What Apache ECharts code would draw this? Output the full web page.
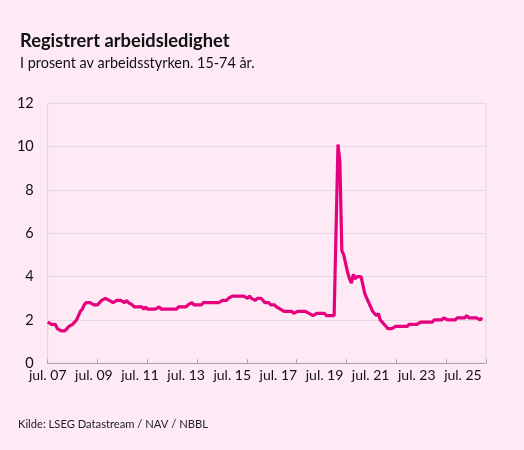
<!DOCTYPE html>
<html><head><meta charset="utf-8">
<script src="https://cdn.jsdelivr.net/npm/echarts@6/dist/echarts.min.js"></script>
<style>html,body{margin:0;padding:0;background:#FDEAF5;}#c{width:524px;height:450px;}</style>
</head><body><div id="c"></div>
<script>
// Monthly data, starting July 2007
const startYear = 2007;
const startMonth = 7;
const slotCount = 229; // axis slots: Jul 2007 .. Jul 2026
const tickLabels = ["jul. 07","jul. 09","jul. 11","jul. 13","jul. 15","jul. 17","jul. 19","jul. 21","jul. 23","jul. 25"];
const rate = [
  1.9,1.9,1.8,1.8,1.8,1.6,1.6,1.5,1.5,1.5,1.6,1.7,
  1.7,1.8,1.9,2.0,2.2,2.4,2.5,2.7,2.8,2.8,2.8,2.8,
  2.7,2.7,2.7,2.8,2.9,2.9,3.0,3.0,2.9,2.9,2.8,2.8,
  2.9,2.9,2.9,2.9,2.8,2.9,2.8,2.8,2.7,2.6,2.6,2.6,
  2.6,2.6,2.5,2.6,2.5,2.5,2.5,2.5,2.5,2.5,2.6,2.5,
  2.5,2.5,2.5,2.5,2.5,2.5,2.5,2.5,2.6,2.6,2.6,2.6,
  2.6,2.7,2.7,2.8,2.7,2.7,2.7,2.7,2.7,2.8,2.8,2.8,
  2.8,2.8,2.8,2.8,2.8,2.8,2.8,2.9,2.9,2.9,3.0,3.0,
  3.1,3.1,3.1,3.1,3.1,3.1,3.1,3.1,3.0,3.1,3.0,3.0,
  2.9,3.0,3.0,3.0,2.9,2.8,2.8,2.8,2.7,2.7,2.7,2.6,
  2.6,2.5,2.5,2.4,2.4,2.4,2.4,2.4,2.3,2.3,2.4,2.4,
  2.4,2.4,2.4,2.4,2.3,2.3,2.2,2.2,2.3,2.3,2.3,2.3,
  2.3,2.2,2.2,2.2,2.2,2.2,2.2,10.1,9.3,5.2,5.0,4.6,
  4.2,3.9,3.7,4.1,3.9,4.0,4.0,4.0,4.0,3.2,3.0,2.8,
  2.6,2.4,2.3,2.2,2.3,2.0,1.9,1.8,1.7,1.6,1.6,1.6,
  1.6,1.7,1.7,1.7,1.7,1.7,1.7,1.7,1.8,1.8,1.8,1.8,
  1.8,1.8,1.9,1.9,1.9,1.9,1.9,1.9,1.9,2.0,2.0,2.0,
  2.0,2.0,2.1,2.1,2.0,2.0,2.0,2.0,2.0,2.1,2.1,2.1,
  2.1,2.1,2.2,2.1,2.1,2.1,2.1,2.1,2.1,2.0,2.1
];
const categories = [];
for (let i = 0; i < slotCount; i++) {
  const mm = startMonth - 1 + i;
  categories.push((startYear + Math.floor(mm / 12)) + '-' + String(mm % 12 + 1).padStart(2, '0'));
}

const FONT = 'Lato, "Noto Sans", sans-serif';
const chart = echarts.init(document.getElementById('c'), null, {renderer: 'canvas'});
chart.setOption({
  backgroundColor: '#FDEAF5',
  animation: false,
  title: [
    {text: 'Registrert arbeidsledighet', left: 20, top: 32, padding: 0,
     textStyle: {fontFamily: FONT, fontWeight: 'bold', fontSize: 18.3, lineHeight: 18, color: '#111'}},
    {text: 'I prosent av arbeidsstyrken. 15-74 år.', left: 20, top: 55.5, padding: 0,
     textStyle: {fontFamily: FONT, fontWeight: 'normal', fontSize: 14.4, lineHeight: 15, color: '#111'}},
    {text: 'Kilde: LSEG Datastream / NAV / NBBL', left: 18, top: 418, padding: 0,
     textStyle: {fontFamily: FONT, fontWeight: 'normal', fontSize: 11.2, lineHeight: 12, color: '#222'}}
  ],
  grid: {left: 47.7, right: 38, top: 103.3, bottom: 86.7, show: true,
         borderColor: '#E2D6DE', borderWidth: 1, backgroundColor: 'transparent'},
  xAxis: [
    {type: 'category', data: categories, boundaryGap: false, position: 'bottom',
     axisLine: {lineStyle: {color: '#A6A6A6', width: 1}},
     axisTick: {show: false},
     axisLabel: {interval: (i) => i % 24 === 0, formatter: (v, i) => tickLabels[i / 24],
                 fontFamily: FONT, fontSize: 14, color: '#111', margin: 5},
     splitLine: {show: false}},
    {type: 'value', min: 0, max: slotCount - 1, interval: 25.9, position: 'bottom',
     axisLine: {show: false}, axisLabel: {show: false}, splitLine: {show: false},
     axisTick: {show: true, inside: true, length: 4, lineStyle: {color: '#A6A6A6'}}}
  ],
  yAxis: {type: 'value', min: 0, max: 12, interval: 2,
    axisLine: {show: true, lineStyle: {color: '#E2D6DE'}},
    axisTick: {show: false},
    axisLabel: {fontFamily: FONT, fontSize: 14.5, color: '#111', margin: 14},
    splitLine: {lineStyle: {color: '#E6DAE2', width: 1}}},
  series: [{
    type: 'line', xAxisIndex: 0, data: rate, showSymbol: false, symbol: 'none',
    lineStyle: {color: '#E6007E', width: 3.2}, itemStyle: {color: '#E6007E'}
  }]
});
</script></body></html>
